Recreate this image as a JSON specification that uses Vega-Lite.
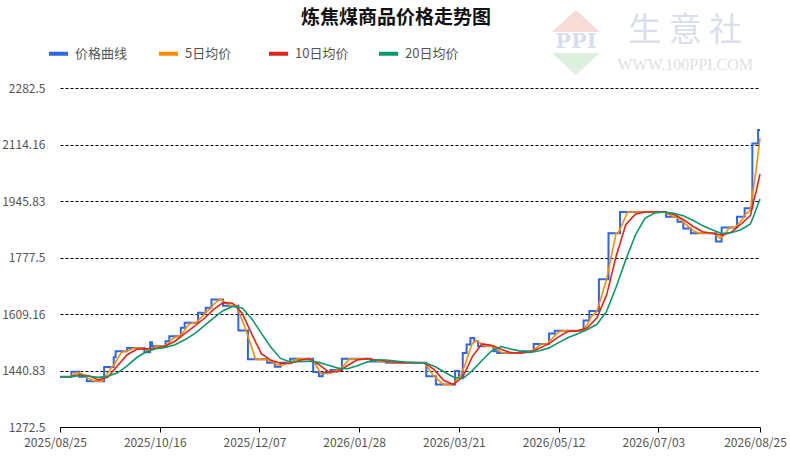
{
  "$schema": "https://vega.github.io/schema/vega-lite/v6.json",
  "description": "炼焦煤商品价格走势图: daily price with 5/10/20-day moving averages, 2025/08/25 - 2026/08/25",
  "width": 700,
  "height": 339,
  "autosize": {"type": "none"},
  "padding": {"left": 60, "top": 88, "right": 30, "bottom": 31},
  "background": "#ffffff",
  "config": {"view": {"stroke": null}, "font": "Noto Sans CJK SC"},
  "title": {
    "text": "炼焦煤商品价格走势图",
    "fontSize": 19,
    "fontWeight": "bold",
    "color": "#111111",
    "anchor": "middle",
    "frame": "group",
    "dx": -14,
    "offset": -18
  },
  "datasets": {
    "price": [
      {"date": "2025-08-25", "v": 1422},
      {"date": "2025-08-31", "v": 1437},
      {"date": "2025-09-04", "v": 1422},
      {"date": "2025-09-08", "v": 1409},
      {"date": "2025-09-17", "v": 1451},
      {"date": "2025-09-22", "v": 1480},
      {"date": "2025-09-23", "v": 1498},
      {"date": "2025-09-29", "v": 1508},
      {"date": "2025-10-08", "v": 1495},
      {"date": "2025-10-11", "v": 1525},
      {"date": "2025-10-12", "v": 1513},
      {"date": "2025-10-19", "v": 1528},
      {"date": "2025-10-21", "v": 1543},
      {"date": "2025-10-27", "v": 1568},
      {"date": "2025-10-29", "v": 1583},
      {"date": "2025-11-05", "v": 1613},
      {"date": "2025-11-09", "v": 1628},
      {"date": "2025-11-12", "v": 1652},
      {"date": "2025-11-18", "v": 1634},
      {"date": "2025-11-26", "v": 1560},
      {"date": "2025-12-01", "v": 1474},
      {"date": "2025-12-11", "v": 1464},
      {"date": "2025-12-15", "v": 1452},
      {"date": "2025-12-18", "v": 1464},
      {"date": "2025-12-23", "v": 1476},
      {"date": "2026-01-04", "v": 1436},
      {"date": "2026-01-07", "v": 1424},
      {"date": "2026-01-09", "v": 1434},
      {"date": "2026-01-13", "v": 1442},
      {"date": "2026-01-19", "v": 1476},
      {"date": "2026-02-03", "v": 1468},
      {"date": "2026-02-11", "v": 1464},
      {"date": "2026-03-04", "v": 1424},
      {"date": "2026-03-09", "v": 1399},
      {"date": "2026-03-19", "v": 1439},
      {"date": "2026-03-21", "v": 1424},
      {"date": "2026-03-23", "v": 1493},
      {"date": "2026-03-25", "v": 1518},
      {"date": "2026-03-27", "v": 1538},
      {"date": "2026-03-29", "v": 1528},
      {"date": "2026-03-31", "v": 1513},
      {"date": "2026-04-08", "v": 1498},
      {"date": "2026-04-10", "v": 1493},
      {"date": "2026-04-23", "v": 1498},
      {"date": "2026-04-29", "v": 1520},
      {"date": "2026-05-07", "v": 1551},
      {"date": "2026-05-10", "v": 1559},
      {"date": "2026-05-25", "v": 1590},
      {"date": "2026-05-28", "v": 1618},
      {"date": "2026-06-02", "v": 1713},
      {"date": "2026-06-07", "v": 1850},
      {"date": "2026-06-13", "v": 1913},
      {"date": "2026-07-07", "v": 1899},
      {"date": "2026-07-13", "v": 1884},
      {"date": "2026-07-16", "v": 1864},
      {"date": "2026-07-20", "v": 1850},
      {"date": "2026-08-02", "v": 1825},
      {"date": "2026-08-05", "v": 1867},
      {"date": "2026-08-13", "v": 1899},
      {"date": "2026-08-17", "v": 1924},
      {"date": "2026-08-21", "v": 2117},
      {"date": "2026-08-24", "v": 2157},
      {"date": "2026-08-25", "v": 2157}
    ],
    "ma5": [
      {"date": "2025-08-25", "v": 1422},
      {"date": "2025-08-30", "v": 1422},
      {"date": "2025-09-03", "v": 1434},
      {"date": "2025-09-04", "v": 1434},
      {"date": "2025-09-07", "v": 1425},
      {"date": "2025-09-08", "v": 1419.4},
      {"date": "2025-09-09", "v": 1416.8},
      {"date": "2025-09-12", "v": 1409},
      {"date": "2025-09-16", "v": 1409},
      {"date": "2025-09-19", "v": 1434.2},
      {"date": "2025-09-21", "v": 1451},
      {"date": "2025-09-22", "v": 1456.8},
      {"date": "2025-09-23", "v": 1466.2},
      {"date": "2025-09-24", "v": 1475.6},
      {"date": "2025-09-26", "v": 1494.4},
      {"date": "2025-09-28", "v": 1498},
      {"date": "2025-09-29", "v": 1500},
      {"date": "2025-10-03", "v": 1508},
      {"date": "2025-10-07", "v": 1508},
      {"date": "2025-10-09", "v": 1502.8},
      {"date": "2025-10-10", "v": 1500.2},
      {"date": "2025-10-11", "v": 1503.6},
      {"date": "2025-10-12", "v": 1504.6},
      {"date": "2025-10-14", "v": 1511.8},
      {"date": "2025-10-15", "v": 1515.4},
      {"date": "2025-10-16", "v": 1513},
      {"date": "2025-10-18", "v": 1513},
      {"date": "2025-10-19", "v": 1516},
      {"date": "2025-10-20", "v": 1519},
      {"date": "2025-10-23", "v": 1537},
      {"date": "2025-10-24", "v": 1540},
      {"date": "2025-10-26", "v": 1543},
      {"date": "2025-10-28", "v": 1553},
      {"date": "2025-10-29", "v": 1561},
      {"date": "2025-10-31", "v": 1577},
      {"date": "2025-11-02", "v": 1583},
      {"date": "2025-11-04", "v": 1583},
      {"date": "2025-11-08", "v": 1607},
      {"date": "2025-11-09", "v": 1616},
      {"date": "2025-11-11", "v": 1622},
      {"date": "2025-11-13", "v": 1637.6},
      {"date": "2025-11-16", "v": 1652},
      {"date": "2025-11-17", "v": 1652},
      {"date": "2025-11-18", "v": 1648.4},
      {"date": "2025-11-21", "v": 1637.6},
      {"date": "2025-11-22", "v": 1634},
      {"date": "2025-11-25", "v": 1634},
      {"date": "2025-11-28", "v": 1589.6},
      {"date": "2025-11-30", "v": 1560},
      {"date": "2025-12-03", "v": 1508.4},
      {"date": "2025-12-05", "v": 1474},
      {"date": "2025-12-10", "v": 1474},
      {"date": "2025-12-13", "v": 1468},
      {"date": "2025-12-14", "v": 1466},
      {"date": "2025-12-15", "v": 1461.6},
      {"date": "2025-12-17", "v": 1456.8},
      {"date": "2025-12-19", "v": 1456.8},
      {"date": "2025-12-22", "v": 1464},
      {"date": "2025-12-23", "v": 1466.4},
      {"date": "2025-12-27", "v": 1476},
      {"date": "2026-01-03", "v": 1476},
      {"date": "2026-01-06", "v": 1452},
      {"date": "2026-01-07", "v": 1441.6},
      {"date": "2026-01-08", "v": 1431.2},
      {"date": "2026-01-12", "v": 1432},
      {"date": "2026-01-13", "v": 1435.6},
      {"date": "2026-01-17", "v": 1442},
      {"date": "2026-01-18", "v": 1442},
      {"date": "2026-01-22", "v": 1469.2},
      {"date": "2026-01-23", "v": 1476},
      {"date": "2026-02-02", "v": 1476},
      {"date": "2026-02-06", "v": 1469.6},
      {"date": "2026-02-07", "v": 1468},
      {"date": "2026-02-10", "v": 1468},
      {"date": "2026-02-11", "v": 1467.2},
      {"date": "2026-02-15", "v": 1464},
      {"date": "2026-03-03", "v": 1464},
      {"date": "2026-03-08", "v": 1424},
      {"date": "2026-03-13", "v": 1399},
      {"date": "2026-03-18", "v": 1399},
      {"date": "2026-03-20", "v": 1415},
      {"date": "2026-03-22", "v": 1425},
      {"date": "2026-03-23", "v": 1443.8},
      {"date": "2026-03-24", "v": 1454.6},
      {"date": "2026-03-26", "v": 1489.2},
      {"date": "2026-03-28", "v": 1521},
      {"date": "2026-03-30", "v": 1530},
      {"date": "2026-04-01", "v": 1524},
      {"date": "2026-04-02", "v": 1519},
      {"date": "2026-04-04", "v": 1513},
      {"date": "2026-04-07", "v": 1513},
      {"date": "2026-04-09", "v": 1507},
      {"date": "2026-04-12", "v": 1495},
      {"date": "2026-04-14", "v": 1493},
      {"date": "2026-04-22", "v": 1493},
      {"date": "2026-04-27", "v": 1498},
      {"date": "2026-04-28", "v": 1498},
      {"date": "2026-05-02", "v": 1515.6},
      {"date": "2026-05-03", "v": 1520},
      {"date": "2026-05-06", "v": 1520},
      {"date": "2026-05-07", "v": 1526.2},
      {"date": "2026-05-09", "v": 1538.6},
      {"date": "2026-05-12", "v": 1555.8},
      {"date": "2026-05-14", "v": 1559},
      {"date": "2026-05-24", "v": 1559},
      {"date": "2026-05-27", "v": 1577.6},
      {"date": "2026-05-29", "v": 1601.2},
      {"date": "2026-06-01", "v": 1618},
      {"date": "2026-06-06", "v": 1713},
      {"date": "2026-06-11", "v": 1850},
      {"date": "2026-06-12", "v": 1850},
      {"date": "2026-06-16", "v": 1900.4},
      {"date": "2026-06-17", "v": 1913},
      {"date": "2026-07-06", "v": 1913},
      {"date": "2026-07-11", "v": 1899},
      {"date": "2026-07-12", "v": 1899},
      {"date": "2026-07-15", "v": 1890},
      {"date": "2026-07-16", "v": 1883},
      {"date": "2026-07-19", "v": 1868},
      {"date": "2026-07-21", "v": 1858.4},
      {"date": "2026-07-24", "v": 1850},
      {"date": "2026-08-01", "v": 1850},
      {"date": "2026-08-04", "v": 1835},
      {"date": "2026-08-05", "v": 1838.4},
      {"date": "2026-08-06", "v": 1841.8},
      {"date": "2026-08-09", "v": 1867},
      {"date": "2026-08-12", "v": 1867},
      {"date": "2026-08-15", "v": 1886.2},
      {"date": "2026-08-16", "v": 1892.6},
      {"date": "2026-08-17", "v": 1904},
      {"date": "2026-08-20", "v": 1919},
      {"date": "2026-08-21", "v": 1962.6},
      {"date": "2026-08-22", "v": 2001.2},
      {"date": "2026-08-23", "v": 2039.8},
      {"date": "2026-08-24", "v": 2086.4},
      {"date": "2026-08-25", "v": 2133}
    ],
    "ma10": [
      {"date": "2025-08-25", "v": 1422},
      {"date": "2025-08-30", "v": 1422},
      {"date": "2025-09-04", "v": 1428},
      {"date": "2025-09-09", "v": 1425.4},
      {"date": "2025-09-14", "v": 1412.9},
      {"date": "2025-09-19", "v": 1421.6},
      {"date": "2025-09-24", "v": 1454.9},
      {"date": "2025-09-29", "v": 1487.8},
      {"date": "2025-10-04", "v": 1504},
      {"date": "2025-10-09", "v": 1505.4},
      {"date": "2025-10-14", "v": 1507.3},
      {"date": "2025-10-19", "v": 1513.9},
      {"date": "2025-10-24", "v": 1528},
      {"date": "2025-10-29", "v": 1550.5},
      {"date": "2025-11-03", "v": 1572},
      {"date": "2025-11-08", "v": 1595},
      {"date": "2025-11-13", "v": 1622.3},
      {"date": "2025-11-18", "v": 1643},
      {"date": "2025-11-23", "v": 1641.2},
      {"date": "2025-11-28", "v": 1611.8},
      {"date": "2025-12-03", "v": 1549},
      {"date": "2025-12-08", "v": 1491.2},
      {"date": "2025-12-13", "v": 1471},
      {"date": "2025-12-18", "v": 1462.4},
      {"date": "2025-12-23", "v": 1461.6},
      {"date": "2025-12-28", "v": 1471.2},
      {"date": "2026-01-02", "v": 1476},
      {"date": "2026-01-07", "v": 1458.8},
      {"date": "2026-01-12", "v": 1436.8},
      {"date": "2026-01-17", "v": 1437},
      {"date": "2026-01-22", "v": 1455.6},
      {"date": "2026-01-27", "v": 1472.6},
      {"date": "2026-02-01", "v": 1476},
      {"date": "2026-02-06", "v": 1472.8},
      {"date": "2026-02-11", "v": 1468.4},
      {"date": "2026-02-16", "v": 1465.6},
      {"date": "2026-02-21", "v": 1464},
      {"date": "2026-03-03", "v": 1464},
      {"date": "2026-03-08", "v": 1444},
      {"date": "2026-03-13", "v": 1411.5},
      {"date": "2026-03-18", "v": 1399},
      {"date": "2026-03-23", "v": 1421.4},
      {"date": "2026-03-28", "v": 1482.4},
      {"date": "2026-04-02", "v": 1520},
      {"date": "2026-04-07", "v": 1516},
      {"date": "2026-04-12", "v": 1504},
      {"date": "2026-04-17", "v": 1494},
      {"date": "2026-04-22", "v": 1493},
      {"date": "2026-04-27", "v": 1495.5},
      {"date": "2026-05-02", "v": 1506.8},
      {"date": "2026-05-07", "v": 1520.9},
      {"date": "2026-05-12", "v": 1541},
      {"date": "2026-05-17", "v": 1557.4},
      {"date": "2026-05-22", "v": 1559},
      {"date": "2026-05-27", "v": 1568.3},
      {"date": "2026-06-01", "v": 1597.8},
      {"date": "2026-06-06", "v": 1665.5},
      {"date": "2026-06-11", "v": 1781.5},
      {"date": "2026-06-16", "v": 1875.2},
      {"date": "2026-06-21", "v": 1906.7},
      {"date": "2026-06-26", "v": 1913},
      {"date": "2026-07-06", "v": 1913},
      {"date": "2026-07-11", "v": 1906},
      {"date": "2026-07-16", "v": 1891},
      {"date": "2026-07-21", "v": 1870.7},
      {"date": "2026-07-26", "v": 1854.2},
      {"date": "2026-07-31", "v": 1850},
      {"date": "2026-08-05", "v": 1844.2},
      {"date": "2026-08-10", "v": 1852.7},
      {"date": "2026-08-15", "v": 1876.6},
      {"date": "2026-08-20", "v": 1902.6},
      {"date": "2026-08-21", "v": 1927.6},
      {"date": "2026-08-22", "v": 1952.6},
      {"date": "2026-08-23", "v": 1974.4},
      {"date": "2026-08-24", "v": 2000.2},
      {"date": "2026-08-25", "v": 2026}
    ],
    "ma20": [
      {"date": "2025-08-25", "v": 1422},
      {"date": "2025-08-30", "v": 1422},
      {"date": "2025-09-04", "v": 1425},
      {"date": "2025-09-09", "v": 1423.7},
      {"date": "2025-09-14", "v": 1420.5},
      {"date": "2025-09-19", "v": 1423.5},
      {"date": "2025-09-24", "v": 1433.9},
      {"date": "2025-09-29", "v": 1454.7},
      {"date": "2025-10-04", "v": 1479.5},
      {"date": "2025-10-09", "v": 1496.6},
      {"date": "2025-10-14", "v": 1505.7},
      {"date": "2025-10-19", "v": 1509.7},
      {"date": "2025-10-24", "v": 1517.7},
      {"date": "2025-10-29", "v": 1532.2},
      {"date": "2025-11-03", "v": 1550},
      {"date": "2025-11-08", "v": 1572.8},
      {"date": "2025-11-13", "v": 1597.2},
      {"date": "2025-11-18", "v": 1619},
      {"date": "2025-11-23", "v": 1631.8},
      {"date": "2025-11-28", "v": 1627.4},
      {"date": "2025-12-03", "v": 1595.1},
      {"date": "2025-12-08", "v": 1551.5},
      {"date": "2025-12-13", "v": 1510},
      {"date": "2025-12-18", "v": 1476.8},
      {"date": "2025-12-23", "v": 1466.3},
      {"date": "2025-12-28", "v": 1466.8},
      {"date": "2026-01-02", "v": 1468.8},
      {"date": "2026-01-07", "v": 1465},
      {"date": "2026-01-12", "v": 1456.4},
      {"date": "2026-01-17", "v": 1447.9},
      {"date": "2026-01-22", "v": 1446.2},
      {"date": "2026-01-27", "v": 1454.8},
      {"date": "2026-02-01", "v": 1465.8},
      {"date": "2026-02-06", "v": 1472.7},
      {"date": "2026-02-11", "v": 1472.2},
      {"date": "2026-02-16", "v": 1469.2},
      {"date": "2026-02-21", "v": 1466.2},
      {"date": "2026-02-26", "v": 1464.8},
      {"date": "2026-03-03", "v": 1464},
      {"date": "2026-03-08", "v": 1454},
      {"date": "2026-03-13", "v": 1437.8},
      {"date": "2026-03-18", "v": 1421.5},
      {"date": "2026-03-23", "v": 1416.5},
      {"date": "2026-03-28", "v": 1440.7},
      {"date": "2026-04-02", "v": 1470.7},
      {"date": "2026-04-07", "v": 1499.2},
      {"date": "2026-04-12", "v": 1512},
      {"date": "2026-04-17", "v": 1505},
      {"date": "2026-04-22", "v": 1498.5},
      {"date": "2026-04-27", "v": 1494.8},
      {"date": "2026-05-02", "v": 1499.9},
      {"date": "2026-05-07", "v": 1508.2},
      {"date": "2026-05-12", "v": 1523.9},
      {"date": "2026-05-17", "v": 1539.2},
      {"date": "2026-05-22", "v": 1550},
      {"date": "2026-05-27", "v": 1562.9},
      {"date": "2026-06-01", "v": 1578.4},
      {"date": "2026-06-06", "v": 1616.9},
      {"date": "2026-06-11", "v": 1689.7},
      {"date": "2026-06-16", "v": 1770.4},
      {"date": "2026-06-21", "v": 1844.1},
      {"date": "2026-06-26", "v": 1894.1},
      {"date": "2026-07-01", "v": 1909.9},
      {"date": "2026-07-06", "v": 1913},
      {"date": "2026-07-11", "v": 1909.5},
      {"date": "2026-07-16", "v": 1902},
      {"date": "2026-07-21", "v": 1888.4},
      {"date": "2026-07-26", "v": 1872.6},
      {"date": "2026-07-31", "v": 1860.4},
      {"date": "2026-08-05", "v": 1849.2},
      {"date": "2026-08-10", "v": 1851.4},
      {"date": "2026-08-15", "v": 1860.4},
      {"date": "2026-08-20", "v": 1877.7},
      {"date": "2026-08-22", "v": 1905.6},
      {"date": "2026-08-24", "v": 1936.8},
      {"date": "2026-08-25", "v": 1951.3}
    ],
    "brand": [
      {"label": "生意社"}
    ]
  },
  "layer": [
    {
      "data": {"name": "brand"},
      "mark": {"type": "point", "filled": true, "clip": false, "shape": "M-1,0.46L0,-0.46L1,0.46Z", "size": 2304, "opacity": 1},
      "encoding": {
        "x": {"datum": {"year": 2026, "month": 5, "date": 21, "utc": true}, "type": "temporal"},
        "y": {"datum": 2482, "type": "quantitative"},
        "color": {"value": "#f6dcd8"}
      }
    },
    {
      "data": {"name": "brand"},
      "mark": {"type": "point", "filled": true, "clip": false, "shape": "M-1,-0.46L0,0.46L1,-0.46Z", "size": 2304, "opacity": 1},
      "encoding": {
        "x": {"datum": {"year": 2026, "month": 5, "date": 21, "utc": true}, "type": "temporal"},
        "y": {"datum": 2354, "type": "quantitative"},
        "color": {"value": "#dcf0dd"}
      }
    },
    {
      "data": {"name": "brand"},
      "mark": {"type": "text", "clip": false, "text": "PPI", "font": "DejaVu Serif", "fontWeight": "bold", "fontSize": 21, "align": "center", "baseline": "middle"},
      "encoding": {
        "x": {"datum": {"year": 2026, "month": 5, "date": 21, "utc": true}, "type": "temporal"},
        "y": {"datum": 2421, "type": "quantitative"},
        "color": {"value": "#d8deec"}
      }
    },
    {
      "data": {"name": "brand"},
      "mark": {"type": "text", "clip": false, "text": "生 意 社", "fontSize": 33, "align": "center", "baseline": "middle"},
      "encoding": {
        "x": {"datum": {"year": 2026, "month": 7, "date": 17, "utc": true}, "type": "temporal"},
        "y": {"datum": 2452, "type": "quantitative"},
        "color": {"value": "#dadfeb"}
      }
    },
    {
      "data": {"name": "brand"},
      "mark": {"type": "text", "clip": false, "text": "WWW.100PPI.COM", "font": "Liberation Sans Narrow", "fontSize": 16, "align": "center", "baseline": "middle"},
      "encoding": {
        "x": {"datum": {"year": 2026, "month": 7, "date": 17, "utc": true}, "type": "temporal"},
        "y": {"datum": 2351, "type": "quantitative"},
        "color": {"value": "#dde0e8"}
      }
    },
    {
      "encoding": {
        "x": {
          "field": "date",
          "type": "temporal",
          "scale": {
            "type": "utc",
            "domain": [
              {"year": 2025, "month": 8, "date": 25, "utc": true},
              {"year": 2026, "month": 8, "date": 25, "utc": true}
            ]
          },
          "axis": {
            "title": null,
            "grid": false,
            "values": [
              {"year": 2025, "month": 8, "date": 25, "utc": true},
              {"year": 2025, "month": 10, "date": 16, "utc": true},
              {"year": 2025, "month": 12, "date": 7, "utc": true},
              {"year": 2026, "month": 1, "date": 28, "utc": true},
              {"year": 2026, "month": 3, "date": 21, "utc": true},
              {"year": 2026, "month": 5, "date": 12, "utc": true},
              {"year": 2026, "month": 7, "date": 3, "utc": true},
              {"year": 2026, "month": 8, "date": 25, "utc": true}
            ],
            "format": "%Y/%m/%d",
            "domainColor": "#000000",
            "domainWidth": 1,
            "tickColor": "#000000",
            "tickSize": 5,
            "labelColor": "#555555",
            "labelFontSize": 12,
            "labelPadding": 5,
            "labelOffset": -5,
            "labelFlush": false,
            "labelOverlap": false
          }
        },
        "y": {
          "field": "v",
          "type": "quantitative",
          "scale": {"domain": [1272.5, 2282.5], "nice": false, "zero": false},
          "axis": {
            "title": null,
            "values": [1272.5, 1440.83, 1609.16, 1777.5, 1945.83, 2114.16, 2282.5],
            "format": ".6~g",
            "domain": false,
            "ticks": false,
            "grid": true,
            "gridColor": "#000000",
            "gridDash": [3, 2],
            "gridWidth": 1,
            "labelColor": "#555555",
            "labelFontSize": 12,
            "labelPadding": 15
          }
        }
      },
      "layer": [
        {
          "data": {"name": "price"},
          "mark": {"type": "line", "interpolate": "step-after", "strokeWidth": 2},
          "encoding": {
            "color": {
              "datum": "价格曲线",
              "type": "nominal",
              "scale": {
                "domain": ["价格曲线", "5日均价", "10日均价", "20日均价"],
                "range": ["#2b67e6", "#ff8c00", "#e2231a", "#0a9a6a"]
              },
              "legend": {
                "title": null,
                "orient": "none",
                "direction": "horizontal",
                "legendX": -13,
                "legendY": -46,
                "padding": 0,
                "gridAlign": "all",
                "columnPadding": 22,
                "symbolType": "stroke",
                "symbolSize": 361,
                "symbolStrokeWidth": 4,
                "symbolOpacity": 1,
                "labelFontSize": 13,
                "labelColor": "#555555",
                "labelOffset": 5
              }
            }
          }
        },
        {
          "data": {"name": "ma5"},
          "mark": {"type": "line", "strokeWidth": 1.6},
          "encoding": {"color": {"datum": "5日均价", "type": "nominal"}}
        },
        {
          "data": {"name": "ma10"},
          "mark": {"type": "line", "strokeWidth": 1.6},
          "encoding": {"color": {"datum": "10日均价", "type": "nominal"}}
        },
        {
          "data": {"name": "ma20"},
          "mark": {"type": "line", "strokeWidth": 1.6},
          "encoding": {"color": {"datum": "20日均价", "type": "nominal"}}
        }
      ]
    }
  ]
}
